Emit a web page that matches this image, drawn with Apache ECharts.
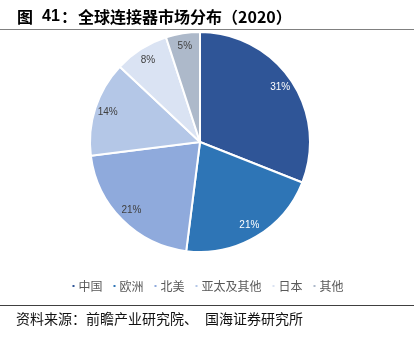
<!DOCTYPE html>
<html><head><meta charset="utf-8">
<script src="https://cdn.jsdelivr.net/npm/echarts@6/dist/echarts.min.js"></script>
<style>html,body{margin:0;padding:0;background:#fff}#c{width:414px;height:338px}</style>
</head><body><div id="c"></div>
<script>
const categories = ['中国','欧洲','北美','亚太及其他','日本','其他'];
const values = [31, 21, 21, 14, 8, 5];
const colors = ['#2F5597','#2E75B6','#8FAADC','#B4C7E7','#DAE3F3','#ADB9CA'];
const labelColors = ['#FFFFFF','#FFFFFF','#404040','#404040','#404040','#404040'];
const titleParts = ['图', '41', '：', '全球连接器市场分布（2020）'];
const sourceParts = ['资料来源：前瞻产业研究院、', '国海证券研究所'];

const chart = echarts.init(document.getElementById('c'));
const data = categories.map((n,i)=>({name:n, value:values[i], itemStyle:{color:colors[i]}}));
const labelData = categories.map((n,i)=>({name:'lbl_'+i, value:values[i], label:{color:labelColors[i]}}));
const tf = 'bold 16px "Noto Sans CJK SC"';
chart.setOption({
  animation:false,
  legend:{
    top:275, left:'center',
    itemWidth:4, itemHeight:4, itemGap:9, icon:'rect',
    textStyle:{fontSize:12, color:'#595959', fontFamily:'Noto Sans CJK SC', padding:[0,0,0,-2]},
    data:categories
  },
  graphic:[
    {type:'text', x:17, y:17, style:{text:titleParts[0], font:tf, fill:'#000', verticalAlign:'middle'}},
    {type:'text', x:42, y:17, style:{text:titleParts[1], font:'bold 16px "Liberation Sans"', fill:'#000', verticalAlign:'middle'}},
    {type:'text', x:61, y:17, style:{text:titleParts[2], font:tf, fill:'#000', verticalAlign:'middle'}},
    {type:'text', x:78, y:17, style:{text:titleParts[3], font:tf, fill:'#000', verticalAlign:'middle'}},
    {type:'line', shape:{x1:0,y1:29.5,x2:414,y2:29.5}, style:{stroke:'#808080', lineWidth:1}},
    {type:'line', shape:{x1:0,y1:305.5,x2:414,y2:305.5}, style:{stroke:'#404040', lineWidth:1}},
    {type:'text', x:16, y:319, style:{text:sourceParts[0], font:'14px "Noto Sans CJK SC"', fill:'#111', verticalAlign:'middle'}},
    {type:'text', x:205, y:319, style:{text:sourceParts[1], font:'14px "Noto Sans CJK SC"', fill:'#111', verticalAlign:'middle'}}
  ],
  series:[
    {type:'pie', center:[200,142], radius:[0,110], startAngle:90, clockwise:true,
     itemStyle:{borderColor:'#fff', borderWidth:2}, label:{show:false}, labelLine:{show:false},
     silent:true, data:data},
    {type:'pie', center:[200,142], radius:[78,110], startAngle:90, clockwise:true,
     itemStyle:{color:'rgba(0,0,0,0)', borderWidth:0}, silent:true, legendHoverLink:false,
     label:{show:true, position:'inside', formatter:'{c}%', fontSize:10, fontFamily:'Liberation Sans, Arial'},
     labelLine:{show:false}, data:labelData}
  ]
});
</script></body></html>
